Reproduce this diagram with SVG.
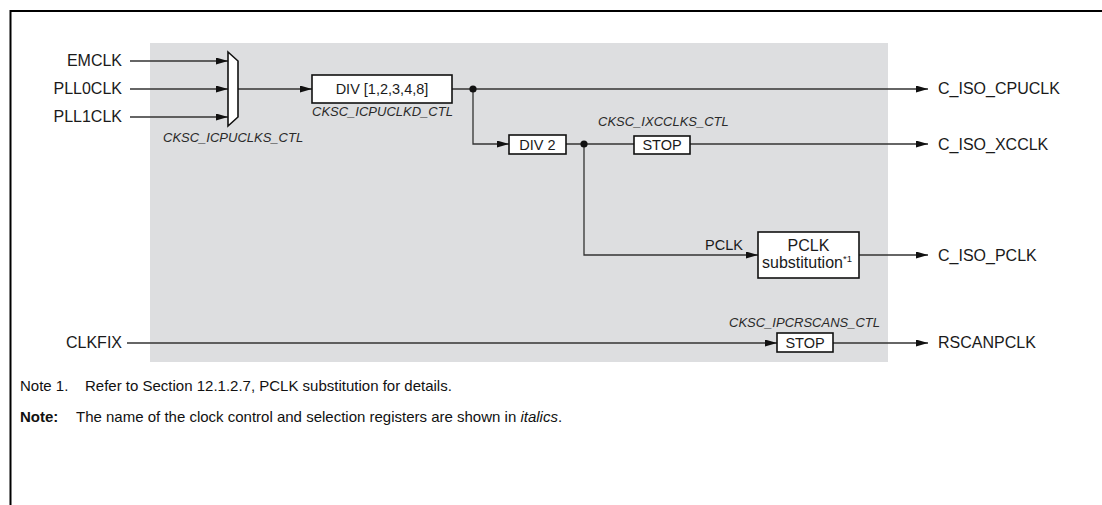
<svg xmlns="http://www.w3.org/2000/svg" width="1102" height="505" viewBox="0 0 1102 505">
<defs>
<marker id="arr" markerWidth="12" markerHeight="7" refX="12" refY="3.5" orient="auto" markerUnits="userSpaceOnUse">
<path d="M0,0 L12,3.5 L0,7 z" fill="#111"/>
</marker>
<style>
.t{font-family:"Liberation Sans",Arial,sans-serif;font-size:14.5px;fill:#1a1a1a}
.l{font-family:"Liberation Sans",Arial,sans-serif;font-size:16px;fill:#1a1a1a}
.i{font-family:"Liberation Sans",Arial,sans-serif;font-size:13px;font-style:italic;fill:#2a2a2a}
.n{font-family:"Liberation Sans",Arial,sans-serif;font-size:15px;fill:#111}
.box{fill:#fff;stroke:#111;stroke-width:1.6}
.w{fill:none;stroke:#333;stroke-width:1.3}
.a{fill:none;stroke:#333;stroke-width:1.3;marker-end:url(#arr)}
.dot{fill:#111}
</style>
</defs>
<rect width="1102" height="505" fill="#fff"/>
<path d="M10.5,505 V11 H1102" fill="none" stroke="#000" stroke-width="2"/>
<rect id="panel" x="150" y="43" width="738" height="319" fill="#dddee0"/>

<g id="connectors">
<path class="a" d="M130,61 H228"/>
<path class="a" d="M130,89 H228"/>
<path class="a" d="M130,117 H228"/>
<path class="a" d="M238,89 H312"/>
<path class="a" d="M452,89 H928"/>
<path class="a" d="M473,89 V144 H509"/>
<path class="w" d="M566,144 H634"/>
<path class="a" d="M690,144 H928"/>
<path class="a" d="M584,144 V255 H758"/>
<path class="a" d="M859,255 H928"/>
<path class="a" d="M127,343 H777"/>
<path class="a" d="M833,343 H928"/>
<circle class="dot" cx="473" cy="89" r="3.6"/>
<circle class="dot" cx="584" cy="144" r="3.6"/>
</g>

<g id="inputs">
<text class="l" x="122" y="66" text-anchor="end">EMCLK</text>
<text class="l" x="122" y="94" text-anchor="end">PLL0CLK</text>
<text class="l" x="122" y="122" text-anchor="end">PLL1CLK</text>
<text class="l" x="122" y="347.5" text-anchor="end">CLKFIX</text>
</g>

<g id="mux">
<polygon class="box" points="228,52 238,61 238,117 228,126"/>
<text class="i" x="163" y="142">CKSC_ICPUCLKS_CTL</text>
</g>

<g id="div">
<rect class="box" x="312" y="75" width="140" height="28"/>
<text class="t" x="382" y="94" text-anchor="middle">DIV [1,2,3,4,8]</text>
<text class="i" x="312" y="116">CKSC_ICPUCLKD_CTL</text>
</g>

<g id="div2">
<rect class="box" x="509" y="135" width="57" height="19"/>
<text class="t" x="537.5" y="149.5" text-anchor="middle">DIV 2</text>
</g>

<g id="stop-xc">
<rect class="box" x="634" y="136" width="56" height="18"/>
<text class="t" x="662" y="150" text-anchor="middle">STOP</text>
<text class="i" x="598" y="126">CKSC_IXCCLKS_CTL</text>
</g>

<g id="pclk-sub">
<rect class="box" x="758" y="232" width="101" height="46"/>
<text class="l" x="808.5" y="250.5" text-anchor="middle">PCLK</text>
<text class="l" x="807" y="268" text-anchor="middle" font-size="15.5">substitution<tspan font-size="9.5" dy="-6.5">*1</tspan></text>
<text class="t" x="743" y="250" text-anchor="end">PCLK</text>
</g>

<g id="stop-rscan">
<rect class="box" x="777" y="333" width="56" height="19"/>
<text class="t" x="805" y="348" text-anchor="middle">STOP</text>
<text class="i" x="880" y="327" text-anchor="end">CKSC_IPCRSCANS_CTL</text>
</g>

<g id="outputs">
<text class="l" x="938" y="93.5">C_ISO_CPUCLK</text>
<text class="l" x="938" y="149.5">C_ISO_XCCLK</text>
<text class="l" x="938" y="260.5">C_ISO_PCLK</text>
<text class="l" x="938" y="347.5">RSCANPCLK</text>
</g>

<g id="notes">
<text class="n" x="20" y="391">Note 1.</text>
<text class="n" x="85" y="391">Refer to Section 12.1.2.7, PCLK substitution for details.</text>
<text class="n" x="20" y="422" font-weight="bold">Note:</text>
<text class="n" x="76" y="422">The name of the clock control and selection registers are shown in <tspan font-style="italic">italics</tspan>.</text>
</g>
</svg>
